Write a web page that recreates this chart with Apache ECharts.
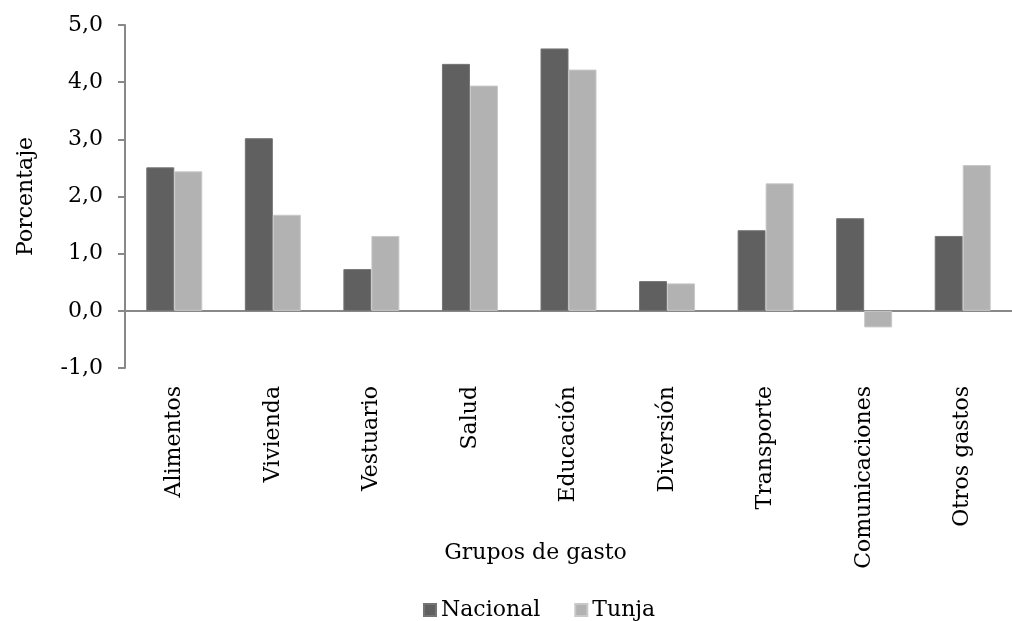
<!DOCTYPE html>
<html><head><meta charset="utf-8">
<script src="https://cdn.jsdelivr.net/npm/echarts@6/dist/echarts.min.js"></script>
<style>html,body{margin:0;padding:0;background:#fff}#c{width:1012px;height:621px}</style>
</head><body><div id="c"></div>
<script>
const categories = ['Alimentos','Vivienda','Vestuario','Salud','Educación','Diversión','Transporte','Comunicaciones','Otros gastos'];
const nacional = [2.51, 3.02, 0.73, 4.32, 4.59, 0.52, 1.41, 1.62, 1.31];
const tunja = [2.44, 1.68, 1.31, 3.94, 4.22, 0.48, 2.23, -0.29, 2.55];
const yTicks = {min: -1, max: 5, interval: 1};

const FONT = 'DejaVu Serif';
const FS = 22;
const chart = echarts.init(document.getElementById('c'), null, {renderer: 'canvas'});
chart.setOption({
  animation: false,
  backgroundColor: '#fff',
  textStyle: {fontFamily: FONT, color: '#000'},
  grid: {left: 125, top: 25, width: 900, height: 343, containLabel: false},
  legend: {
    data: ['Nacional', 'Tunja'],
    left: 418, top: 594,
    itemWidth: 12, itemHeight: 12, itemGap: 34,
    icon: 'rect',
    textStyle: {fontFamily: FONT, fontSize: FS, color: '#000'}
  },
  xAxis: [{
    type: 'category', data: categories,
    axisLine: {onZero: true, lineStyle: {color: '#888', width: 2}},
    axisTick: {inside: true, length: 7, lineStyle: {color: '#888', width: 2}},
    axisLabel: {show: false},
    splitLine: {show: false}
  }, {
    type: 'category', data: categories, position: 'bottom',
    axisLine: {show: false}, axisTick: {show: false},
    axisLabel: {rotate: 90, margin: 18, fontFamily: FONT, fontSize: FS, color: '#000', interval: 0},
    name: 'Grupos de gasto', nameLocation: 'middle', nameGap: 174, nameMoveOverlap: false,
    nameTextStyle: {fontFamily: FONT, fontSize: FS, color: '#000', padding: [0, 66, 0, 0]}
  }],
  yAxis: {
    type: 'value', min: yTicks.min, max: yTicks.max, interval: yTicks.interval,
    axisLine: {show: true, lineStyle: {color: '#888', width: 2}},
    axisTick: {show: true, length: 7, lineStyle: {color: '#888', width: 2}},
    splitLine: {show: false},
    axisLabel: {margin: 22, fontFamily: FONT, fontSize: FS, color: '#000',
      formatter: v => v.toFixed(1).replace('.', ',')},
    name: 'Porcentaje', nameLocation: 'middle', nameGap: 88, nameMoveOverlap: false,
    nameTextStyle: {fontFamily: FONT, fontSize: FS, color: '#000'}
  },
  series: [{
    name: 'Nacional', type: 'bar', data: nacional, xAxisIndex: 0,
    barWidth: 28, barGap: '0%',
    itemStyle: {color: '#606060', borderColor: '#747474', borderWidth: 1}
  }, {
    name: 'Tunja', type: 'bar', data: tunja, xAxisIndex: 0,
    barWidth: 28,
    itemStyle: {color: '#b2b2b2', borderColor: '#c8c8c8', borderWidth: 1}
  }]
});
</script></body></html>
